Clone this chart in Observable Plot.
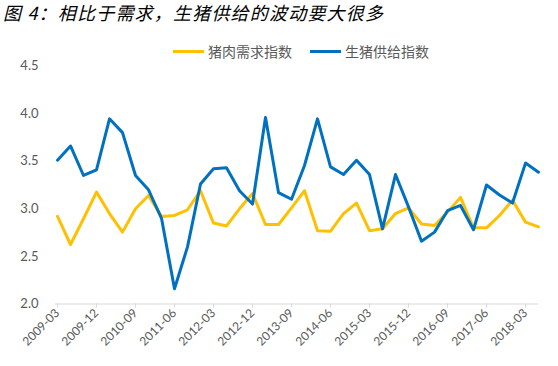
<!DOCTYPE html>
<html><head><meta charset="utf-8">
<script src="https://cdn.jsdelivr.net/npm/d3@7"></script>
<script src="https://cdn.jsdelivr.net/npm/@observablehq/plot@0.6"></script>
<style>
body{margin:0;background:#fff;}
#wrap{position:relative;width:558px;height:366px;overflow:hidden;background:#fff;}
#title{position:absolute;left:3px;top:-1px;font:italic 18px "Noto Sans CJK SC";color:#000;white-space:nowrap;letter-spacing:1.2px;}
#legend{position:absolute;left:173px;top:41px;display:flex;align-items:center;gap:18px;font:14px "Noto Sans CJK SC";color:#595959;white-space:nowrap;}
.item{display:flex;align-items:center;gap:4px;}
.sw{display:inline-block;width:31px;height:3px;}
#chart{position:absolute;left:0;top:0;}
</style></head>
<body><div id="wrap"><div id="chart"></div><div id="title">图 4：相比于需求，生猪供给的波动要大很多</div><div id="legend"></div></div>
<script>
const quarters = ["2009-03","2009-06","2009-09","2009-12","2010-03","2010-06","2010-09","2010-12",
"2011-03","2011-06","2011-09","2011-12","2012-03","2012-06","2012-09","2012-12",
"2013-03","2013-06","2013-09","2013-12","2014-03","2014-06","2014-09","2014-12",
"2015-03","2015-06","2015-09","2015-12","2016-03","2016-06","2016-09","2016-12",
"2017-03","2017-06","2017-09","2017-12","2018-03","2018-06"];
const tickLabels = ["2009-03","2009-12","2010-09","2011-06","2012-03","2012-12","2013-09","2014-06","2015-03","2015-12","2016-09","2017-06","2018-03"];
const yTicks = [2.0,2.5,3.0,3.5,4.0,4.5];
const seriesNames = ["猪肉需求指数","生猪供给指数"];
const seriesColors = ["#FFC000","#0070C0"];
const demand = [2.92,2.625,2.895,3.175,2.95,2.755,3.0,3.14,2.92,2.93,2.99,3.19,2.85,2.82,3.0,3.16,2.835,2.835,3.01,3.19,2.77,2.765,2.95,3.06,2.77,2.79,2.95,3.01,2.84,2.825,2.965,3.12,2.80,2.80,2.93,3.09,2.86,2.81];
const supply = [3.51,3.66,3.35,3.41,3.945,3.80,3.35,3.20,2.90,2.16,2.60,3.26,3.42,3.43,3.19,3.05,3.96,3.17,3.10,3.455,3.945,3.44,3.36,3.51,3.36,2.79,3.36,3.02,2.66,2.755,2.98,3.035,2.78,3.25,3.145,3.06,3.48,3.385];

const dRows = quarters.map((q,i)=>({q, v: demand[i], s: seriesNames[0]}));
const sRows = quarters.map((q,i)=>({q, v: supply[i], s: seriesNames[1]}));

const chart = Plot.plot({
  width: 558, height: 366,
  marginTop: 65.5, marginBottom: 62.5, marginLeft: 55, marginRight: 20,
  style: {fontFamily: "Lato, 'Liberation Sans', sans-serif", fontSize: "12px", color: "#595959", background: "white", overflow: "visible"},
  x: {type: "point", domain: quarters, padding: 0, insetLeft: 2},
  y: {domain: [2, 4.5]},
  color: {domain: seriesNames, range: seriesColors},
  marks: [
    Plot.axisY({ticks: yTicks, tickSize: 0, tickPadding: 17, tickFormat: d3.format(".1f"), fontSize: 13, label: null, fill: "#595959"}),
    Plot.ruleY([2], {stroke: "#d9d9d9", strokeWidth: 1}),
    Plot.axisX({ticks: tickLabels, tickRotate: -45, tickSize: 4, tickPadding: 3, stroke: "#d9d9d9", fill: "#595959", label: null, fontSize: 12}),
    Plot.line(dRows, {x: "q", y: "v", stroke: "s", strokeWidth: 3, strokeLinejoin: "round", strokeLinecap: "round"}),
    Plot.line(sRows, {x: "q", y: "v", stroke: "s", strokeWidth: 3, strokeLinejoin: "round", strokeLinecap: "round"})
  ]
});
document.getElementById("chart").appendChild(chart);

const legend = document.getElementById("legend");
seriesNames.forEach((n,i)=>{
  const it = document.createElement("div"); it.className = "item";
  const sw = document.createElement("span"); sw.className = "sw"; sw.style.background = seriesColors[i];
  const t = document.createElement("span"); t.textContent = n;
  it.appendChild(sw); it.appendChild(t); legend.appendChild(it);
});
</script></body></html>
